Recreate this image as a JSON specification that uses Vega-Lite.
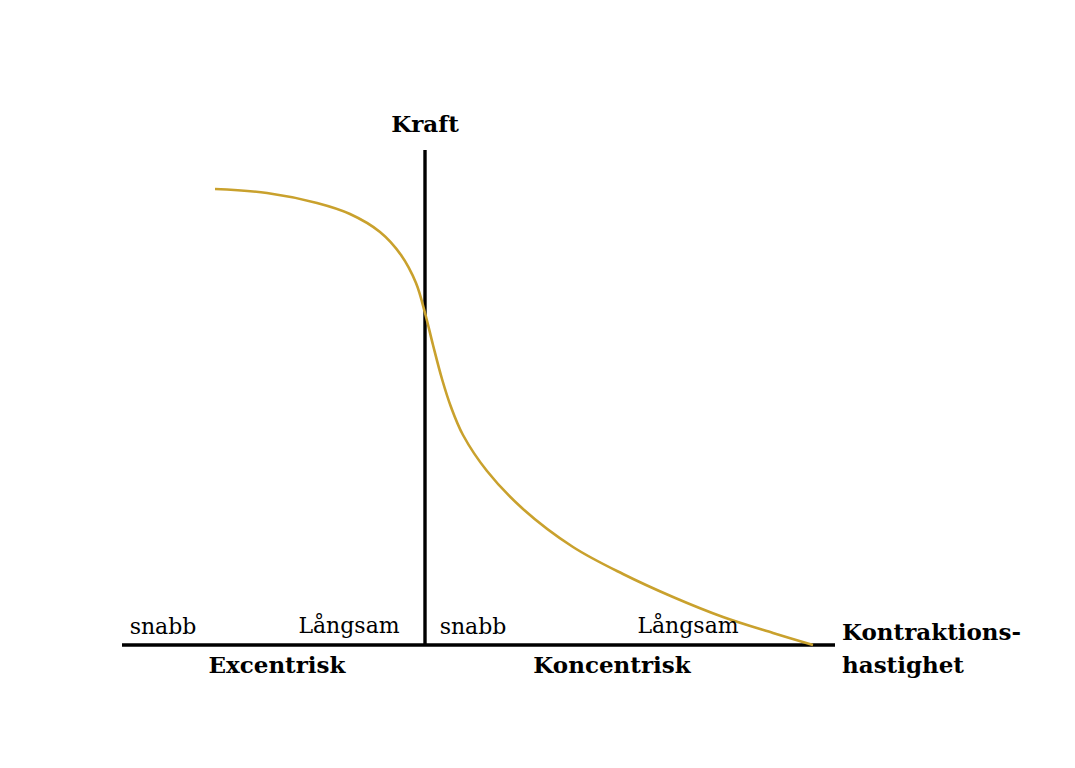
{
  "$schema": "https://vega.github.io/schema/vega-lite/v6.json",
  "width": 1075,
  "height": 768,
  "autosize": {"type": "fit", "contains": "padding"},
  "padding": 0,
  "background": "white",
  "config": {"view": {"stroke": null}},
  "layer": [
    {
      "data": {
        "values": [
          {"axis": "Kraft", "x": 0, "y": 0, "x2": 0, "y2": 495},
          {"axis": "Kontraktionshastighet", "x": -303, "y": 0, "x2": 410, "y2": 0}
        ]
      },
      "mark": {"type": "rule", "color": "black", "strokeWidth": 3.4},
      "encoding": {
        "x": {"field": "x", "type": "quantitative", "scale": {"domain": [-425, 650], "nice": false, "zero": false}, "axis": null},
        "x2": {"field": "x2"},
        "y": {"field": "y", "type": "quantitative", "scale": {"domain": [-123, 645], "nice": false, "zero": false}, "axis": null},
        "y2": {"field": "y2"}
      }
    },
    {
      "data": {
        "values": [
          {"velocity": -210, "force": 456},
          {"velocity": -158, "force": 452},
          {"velocity": -108, "force": 442},
          {"velocity": -75, "force": 431},
          {"velocity": -45, "force": 413},
          {"velocity": -24, "force": 390},
          {"velocity": -9, "force": 362},
          {"velocity": 0, "force": 332},
          {"velocity": 8, "force": 300},
          {"velocity": 17, "force": 266},
          {"velocity": 26, "force": 238},
          {"velocity": 38, "force": 210},
          {"velocity": 62, "force": 174},
          {"velocity": 98, "force": 136},
          {"velocity": 148, "force": 98},
          {"velocity": 198, "force": 71},
          {"velocity": 248, "force": 48},
          {"velocity": 298, "force": 28},
          {"velocity": 348, "force": 12},
          {"velocity": 388, "force": 0}
        ]
      },
      "mark": {"type": "line", "color": "#C9A12D", "strokeWidth": 2.6, "interpolate": "catmull-rom"},
      "encoding": {
        "x": {"field": "velocity", "type": "quantitative"},
        "y": {"field": "force", "type": "quantitative"}
      }
    },
    {
      "data": {
        "values": [
          {"label": "snabb", "x": -262, "y": 11},
          {"label": "Långsam", "x": -76, "y": 12},
          {"label": "snabb", "x": 48, "y": 11},
          {"label": "Långsam", "x": 263, "y": 12}
        ]
      },
      "mark": {"type": "text", "font": "DejaVu Serif", "fontSize": 22, "align": "center", "baseline": "alphabetic", "color": "black"},
      "encoding": {
        "x": {"field": "x", "type": "quantitative"},
        "y": {"field": "y", "type": "quantitative"},
        "text": {"field": "label"}
      }
    },
    {
      "data": {
        "values": [
          {"label": "Kraft", "x": 0, "y": 513},
          {"label": "Excentrisk", "x": -148, "y": -28},
          {"label": "Koncentrisk", "x": 187, "y": -28}
        ]
      },
      "mark": {"type": "text", "font": "DejaVu Serif", "fontSize": 23, "fontWeight": "bold", "align": "center", "baseline": "alphabetic", "color": "black"},
      "encoding": {
        "x": {"field": "x", "type": "quantitative"},
        "y": {"field": "y", "type": "quantitative"},
        "text": {"field": "label"}
      }
    },
    {
      "data": {
        "values": [
          {"label": "Kontraktions-", "x": 417, "y": 5},
          {"label": "hastighet", "x": 417, "y": -28}
        ]
      },
      "mark": {"type": "text", "font": "DejaVu Serif", "fontSize": 23, "fontWeight": "bold", "align": "left", "baseline": "alphabetic", "color": "black"},
      "encoding": {
        "x": {"field": "x", "type": "quantitative"},
        "y": {"field": "y", "type": "quantitative"},
        "text": {"field": "label"}
      }
    }
  ]
}
